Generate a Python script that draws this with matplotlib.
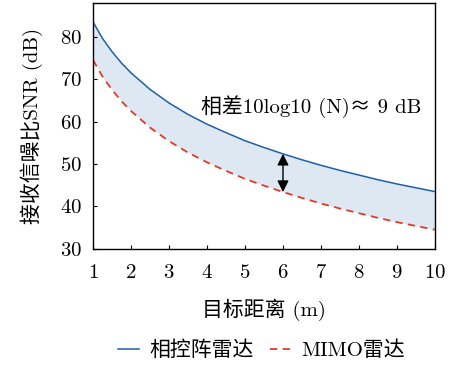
import matplotlib
matplotlib.use("Agg")
import matplotlib.pyplot as plt

plt.rcParams['font.family'] = ['cmr10', 'Noto Sans CJK SC', 'DejaVu Serif']
plt.rcParams['axes.formatter.use_mathtext'] = True

# 目标距离 (m)
distance = [1, 1.25, 1.5, 1.75, 2, 2.5, 3, 3.5, 4, 4.5, 5, 5.5, 6,
            6.5, 7, 7.5, 8, 8.5, 9, 9.5, 10]
# 相控阵雷达 SNR (dB)
snr_phased = [83.5, 79.6, 76.5, 73.8, 71.5, 67.6, 64.4, 61.7, 59.4, 57.4, 55.5,
              53.9, 52.4, 51.0, 49.7, 48.5, 47.4, 46.3, 45.3, 44.4, 43.5]
# MIMO雷达 SNR (dB)
snr_mimo = [74.5, 70.6, 67.5, 64.8, 62.5, 58.6, 55.4, 52.7, 50.4, 48.4, 46.5,
            44.9, 43.4, 42.0, 40.7, 39.5, 38.4, 37.3, 36.3, 35.4, 34.5]
arrow_x = 6
arrow_top, arrow_bottom = 52.4, 43.4

fig = plt.figure(figsize=(4.54, 3.67), dpi=100)
ax = fig.add_axes([0.205, 0.322, 0.753, 0.670])

ax.fill_between(distance, snr_mimo, snr_phased, color='#dde8f3', lw=0)
l1, = ax.plot(distance, snr_phased, color='#1f5fa8', lw=1.1, label='相控阵雷达')
l2, = ax.plot(distance, snr_mimo, color='#e23a25', lw=1.3, ls=(0, (4, 3)), label='MIMO雷达')

ax.annotate('', xy=(arrow_x, arrow_bottom), xytext=(arrow_x, arrow_top),
            arrowprops=dict(arrowstyle='<|-|>', color='black', lw=1.0,
                            mutation_scale=17, shrinkA=0, shrinkB=0))
ax.text(3.85, 63.5, '相差10log10 (N)≈ 9 dB', fontsize=15, va='center', ha='left')

ax.set_xlim(1, 10)
ax.set_ylim(30, 88)
ax.set_xticks(range(1, 11))
ax.set_yticks([30, 40, 50, 60, 70, 80])
ax.tick_params(direction='in', labelsize=15, length=3, width=0.8)
ax.tick_params(axis='x', pad=11)
ax.tick_params(axis='y', pad=8)
for s in ax.spines.values():
    s.set_linewidth(1.0)

ax.set_xlabel('目标距离 (m)', fontsize=15, labelpad=12)
ax.set_ylabel('接收信噪比SNR (dB)', fontsize=15, labelpad=12)

fig.legend(handles=[l1, l2], loc='center', bbox_to_anchor=(0.576, 0.046), ncol=2,
           frameon=False, fontsize=15, handlelength=1.0, columnspacing=0.75,
           handletextpad=0.5)

plt.savefig('out.png', dpi=100)
